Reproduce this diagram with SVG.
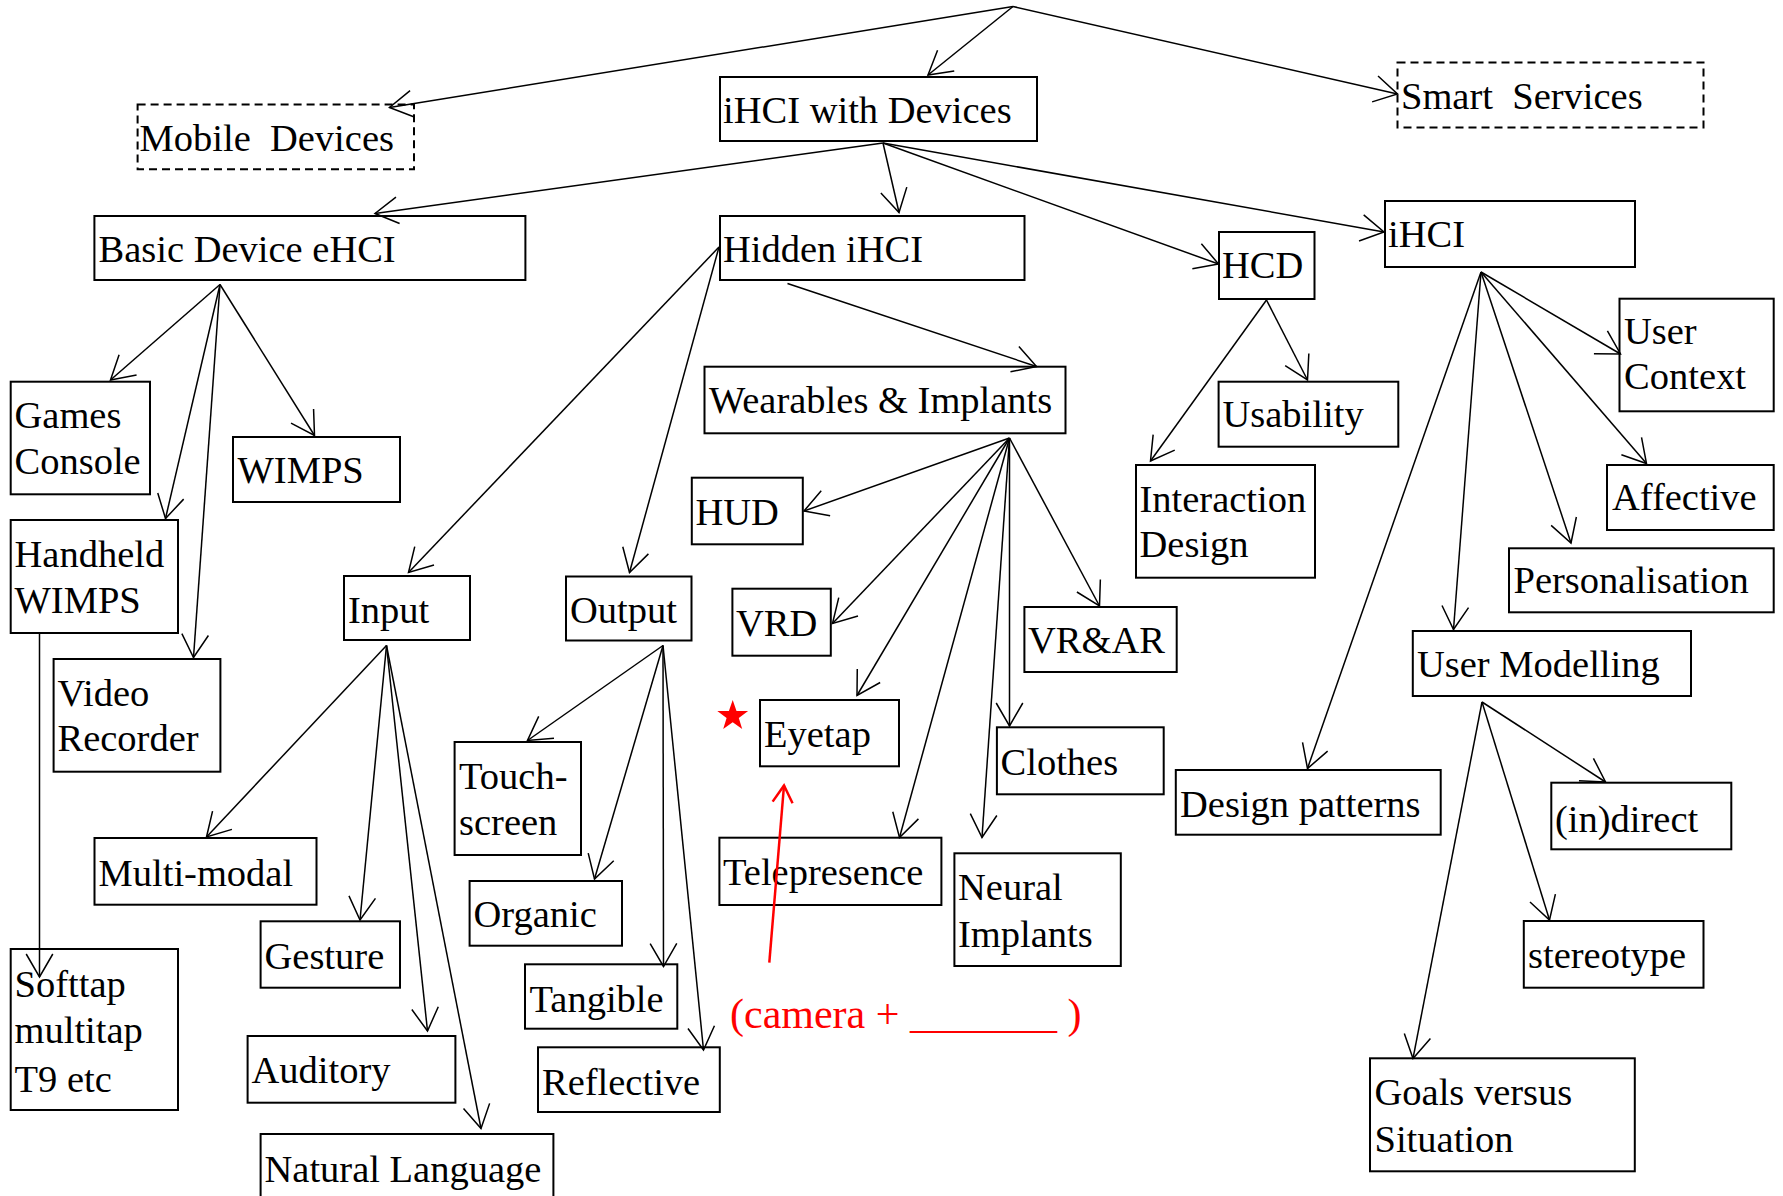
<svg xmlns="http://www.w3.org/2000/svg" width="1783" height="1196" viewBox="0 0 1783 1196">
<style>
  .box { fill: none; stroke: #000; stroke-width: 2; }
  .dash { fill: none; stroke: #000; stroke-width: 2; stroke-dasharray: 8 5; }
  .t { font-family: "Liberation Serif", "Times New Roman", serif; font-size: 38.5px; fill: #000; white-space: pre; }
  .edge { stroke: #000; stroke-width: 1.5; fill: none; marker-end: url(#arr); }
  .red { font-family: "Liberation Serif", "Times New Roman", serif; font-size: 42px; fill: #ff0000; white-space: pre; }
</style>
<defs>
  <marker id="arr" markerUnits="userSpaceOnUse" viewBox="-30 -20 40 40" markerWidth="40" markerHeight="40" refX="0" refY="0" orient="auto">
    <path d="M-23,-13.3 L0,0 L-23,13.3" fill="none" stroke="#000" stroke-width="1.5"/>
  </marker>
  <marker id="arrRed" markerUnits="userSpaceOnUse" viewBox="-30 -20 40 40" markerWidth="40" markerHeight="40" refX="0" refY="0" orient="auto">
    <path d="M-17,-10 L0,0 L-17,10" fill="none" stroke="#ff0000" stroke-width="2.5"/>
  </marker>
</defs>
<rect width="1783" height="1196" fill="#fff"/>

<g id="mobile-devices"><rect class="dash" x="137.6" y="104.6" width="276.4" height="64.6"/><text class="t" x="139.5" y="150.5">Mobile  Devices</text></g>
<g id="ihci-with-devices"><rect class="box" x="720" y="77" width="317" height="64"/><text class="t" x="723" y="123">iHCI with Devices</text></g>
<g id="smart-services"><rect class="dash" x="1397.5" y="62.5" width="306" height="65"/><text class="t" x="1401" y="108.5">Smart  Services</text></g>
<g id="basic-device"><rect class="box" x="94.4" y="216" width="431" height="64"/><text class="t" x="98.5" y="262">Basic Device eHCI</text></g>
<g id="hidden-ihci"><rect class="box" x="720" y="216" width="304.5" height="64"/><text class="t" x="723" y="262">Hidden iHCI</text></g>
<g id="hcd"><rect class="box" x="1219" y="232" width="95.5" height="67"/><text class="t" x="1222" y="278">HCD</text></g>
<g id="ihci"><rect class="box" x="1385" y="201" width="250" height="66"/><text class="t" x="1388" y="247">iHCI</text></g>
<g id="games-console"><rect class="box" x="10.7" y="381.7" width="139.3" height="112.6"/><text class="t" x="14.5" y="428.3">Games</text><text class="t" x="14.5" y="474">Console</text></g>
<g id="wimps"><rect class="box" x="233" y="437" width="167" height="65"/><text class="t" x="237.5" y="483">WIMPS</text></g>
<g id="handheld-wimps"><rect class="box" x="10.7" y="520" width="167.3" height="113"/><text class="t" x="14.5" y="566.7">Handheld</text><text class="t" x="14.5" y="612.7">WIMPS</text></g>
<g id="video-recorder"><rect class="box" x="53.6" y="659" width="166.8" height="112.7"/><text class="t" x="57.5" y="705.7">Video</text><text class="t" x="57.5" y="751">Recorder</text></g>
<g id="input"><rect class="box" x="344" y="576" width="126" height="64"/><text class="t" x="348" y="622.7">Input</text></g>
<g id="output"><rect class="box" x="566" y="576.5" width="125.5" height="64"/><text class="t" x="570" y="622.7">Output</text></g>
<g id="wearables"><rect class="box" x="704.5" y="366.7" width="361" height="66.6"/><text class="t" x="709" y="413">Wearables &amp; Implants</text></g>
<g id="hud"><rect class="box" x="691.8" y="477.7" width="111" height="66.6"/><text class="t" x="695.5" y="524.5">HUD</text></g>
<g id="vrd"><rect class="box" x="732.4" y="588.7" width="98.4" height="67"/><text class="t" x="736" y="635.5">VRD</text></g>
<g id="vr-ar"><rect class="box" x="1024.4" y="607" width="152.3" height="65"/><text class="t" x="1028" y="652.7">VR&amp;AR</text></g>
<g id="eyetap"><rect class="box" x="760" y="700" width="139" height="66.3"/><text class="t" x="764" y="746.7">Eyetap</text></g>
<g id="clothes"><rect class="box" x="996.9" y="727.3" width="166.8" height="67"/><text class="t" x="1000.5" y="775">Clothes</text></g>
<g id="telepresence"><rect class="box" x="719.4" y="837.7" width="222" height="67.3"/><text class="t" x="723" y="885">Telepresence</text></g>
<g id="neural-implants"><rect class="box" x="954.4" y="853.3" width="166.4" height="112.7"/><text class="t" x="958" y="900">Neural</text><text class="t" x="958" y="946.7">Implants</text></g>
<g id="interaction-design"><rect class="box" x="1136" y="465" width="179" height="112.7"/><text class="t" x="1139.5" y="511.7">Interaction</text><text class="t" x="1139.5" y="556.7">Design</text></g>
<g id="usability"><rect class="box" x="1218.6" y="381.7" width="179.7" height="65"/><text class="t" x="1222.5" y="426.7">Usability</text></g>
<g id="user-context"><rect class="box" x="1619.5" y="298.7" width="154.2" height="112.6"/><text class="t" x="1624" y="344.3">User</text><text class="t" x="1624" y="389.3">Context</text></g>
<g id="affective"><rect class="box" x="1607" y="465" width="166.7" height="65"/><text class="t" x="1612" y="510">Affective</text></g>
<g id="personalisation"><rect class="box" x="1509" y="548.3" width="264.7" height="64"/><text class="t" x="1513.5" y="593.3">Personalisation</text></g>
<g id="user-modelling"><rect class="box" x="1412.8" y="631" width="278.2" height="65"/><text class="t" x="1417" y="676.7">User Modelling</text></g>
<g id="design-patterns"><rect class="box" x="1175.8" y="770" width="264.9" height="64.7"/><text class="t" x="1180" y="816.7">Design patterns</text></g>
<g id="indirect"><rect class="box" x="1551.3" y="782.7" width="180" height="66.6"/><text class="t" x="1555" y="831.7">(in)direct</text></g>
<g id="stereotype"><rect class="box" x="1523.8" y="921" width="179.7" height="66.7"/><text class="t" x="1528" y="968.3">stereotype</text></g>
<g id="goals-situation"><rect class="box" x="1370" y="1058.3" width="264.8" height="113"/><text class="t" x="1374.5" y="1105">Goals versus</text><text class="t" x="1374.5" y="1151.7">Situation</text></g>
<g id="touch-screen"><rect class="box" x="454.6" y="742" width="126.4" height="113"/><text class="t" x="459" y="789.3">Touch-</text><text class="t" x="459" y="835">screen</text></g>
<g id="organic"><rect class="box" x="469.6" y="881" width="152.4" height="64.7"/><text class="t" x="473.5" y="926.7">Organic</text></g>
<g id="tangible"><rect class="box" x="525" y="964.3" width="152.3" height="64.4"/><text class="t" x="529.5" y="1011.7">Tangible</text></g>
<g id="reflective"><rect class="box" x="538" y="1047.3" width="181.8" height="64.7"/><text class="t" x="542" y="1095">Reflective</text></g>
<g id="multi-modal"><rect class="box" x="94.5" y="838" width="222" height="66.7"/><text class="t" x="98.5" y="885.7">Multi-modal</text></g>
<g id="gesture"><rect class="box" x="260.6" y="921.3" width="139.4" height="66.4"/><text class="t" x="264.5" y="969.3">Gesture</text></g>
<g id="auditory"><rect class="box" x="247.6" y="1036" width="207.8" height="66.7"/><text class="t" x="251.5" y="1083.3">Auditory</text></g>
<g id="natural-language"><rect class="box" x="260.6" y="1134" width="292.8" height="80"/><text class="t" x="264.5" y="1181.7">Natural Language</text></g>
<g id="softtap"><rect class="box" x="10.7" y="949" width="167.3" height="161"/><text class="t" x="14.5" y="996.7">Softtap</text><text class="t" x="14.5" y="1043.3">multitap</text><text class="t" x="14.5" y="1091.7">T9 etc</text></g>

<g id="connectors">
  <line class="edge" x1="1013" y1="6.5" x2="389.5" y2="107.5"/>
  <line class="edge" x1="1013" y1="6.5" x2="928" y2="75"/>
  <line class="edge" x1="1013" y1="6.5" x2="1397.5" y2="94"/>
  <line class="edge" x1="883" y1="143" x2="375" y2="213.5"/>
  <line class="edge" x1="883" y1="143" x2="899" y2="212.5"/>
  <line class="edge" x1="883" y1="143" x2="1218.5" y2="264"/>
  <line class="edge" x1="883" y1="143" x2="1384" y2="232"/>
  <line class="edge" x1="220" y1="284.5" x2="110.5" y2="380"/>
  <line class="edge" x1="220" y1="284.5" x2="165.5" y2="518.5"/>
  <line class="edge" x1="220" y1="284.5" x2="193.5" y2="657.5"/>
  <line class="edge" x1="220" y1="284.5" x2="314.5" y2="435.5"/>
  <line class="edge" x1="39.5" y1="633" x2="39.5" y2="977"/>
  <line class="edge" x1="719" y1="247" x2="408.5" y2="572.5"/>
  <line class="edge" x1="719" y1="247" x2="629.5" y2="572.5"/>
  <line class="edge" x1="787.5" y1="283.5" x2="1036.5" y2="366.5"/>
  <line class="edge" x1="1009.5" y1="438" x2="804" y2="511"/>
  <line class="edge" x1="1009.5" y1="438" x2="832.5" y2="623.5"/>
  <line class="edge" x1="1009.5" y1="438" x2="857" y2="695.5"/>
  <line class="edge" x1="1009.5" y1="438" x2="899.5" y2="837.5"/>
  <line class="edge" x1="1009.5" y1="438" x2="982" y2="837.5"/>
  <line class="edge" x1="1009.5" y1="438" x2="1009.5" y2="726"/>
  <line class="edge" x1="1009.5" y1="438" x2="1099.5" y2="606"/>
  <line class="edge" x1="386.5" y1="645.5" x2="206.5" y2="837"/>
  <line class="edge" x1="386.5" y1="645.5" x2="360" y2="920"/>
  <line class="edge" x1="386.5" y1="645.5" x2="427.5" y2="1031"/>
  <line class="edge" x1="386.5" y1="645.5" x2="481" y2="1128.5"/>
  <line class="edge" x1="663" y1="645.5" x2="527.5" y2="740.5"/>
  <line class="edge" x1="663" y1="645.5" x2="594.5" y2="879"/>
  <line class="edge" x1="663" y1="645.5" x2="663.5" y2="966.5"/>
  <line class="edge" x1="663" y1="645.5" x2="703.5" y2="1050"/>
  <line class="edge" x1="1266.5" y1="300" x2="1150.5" y2="461"/>
  <line class="edge" x1="1266.5" y1="300" x2="1307.5" y2="380"/>
  <line class="edge" x1="1481" y1="272" x2="1620.5" y2="354"/>
  <line class="edge" x1="1481" y1="272" x2="1646.5" y2="463.5"/>
  <line class="edge" x1="1481" y1="272" x2="1571" y2="543"/>
  <line class="edge" x1="1481" y1="272" x2="1453.5" y2="629.5"/>
  <line class="edge" x1="1481" y1="272" x2="1307.5" y2="768.5"/>
  <line class="edge" x1="1482" y1="702" x2="1605.5" y2="782"/>
  <line class="edge" x1="1482" y1="702" x2="1549.5" y2="920"/>
  <line class="edge" x1="1482" y1="702" x2="1413" y2="1058.5"/>
</g>

<g id="annotation">
  <polygon fill="#ff0000" points="732.7,700 736.5,711 748.1,711 738.8,718 742.2,729 732.7,722.3 723.2,729 726.6,718 717.3,711 728.9,711"/>
  <line x1="769.3" y1="962.7" x2="784" y2="785.5" stroke="#ff0000" stroke-width="2.5" marker-end="url(#arrRed)"/>
  <text class="red" x="730" y="1028">(camera + _______ )</text>
</g>
</svg>
